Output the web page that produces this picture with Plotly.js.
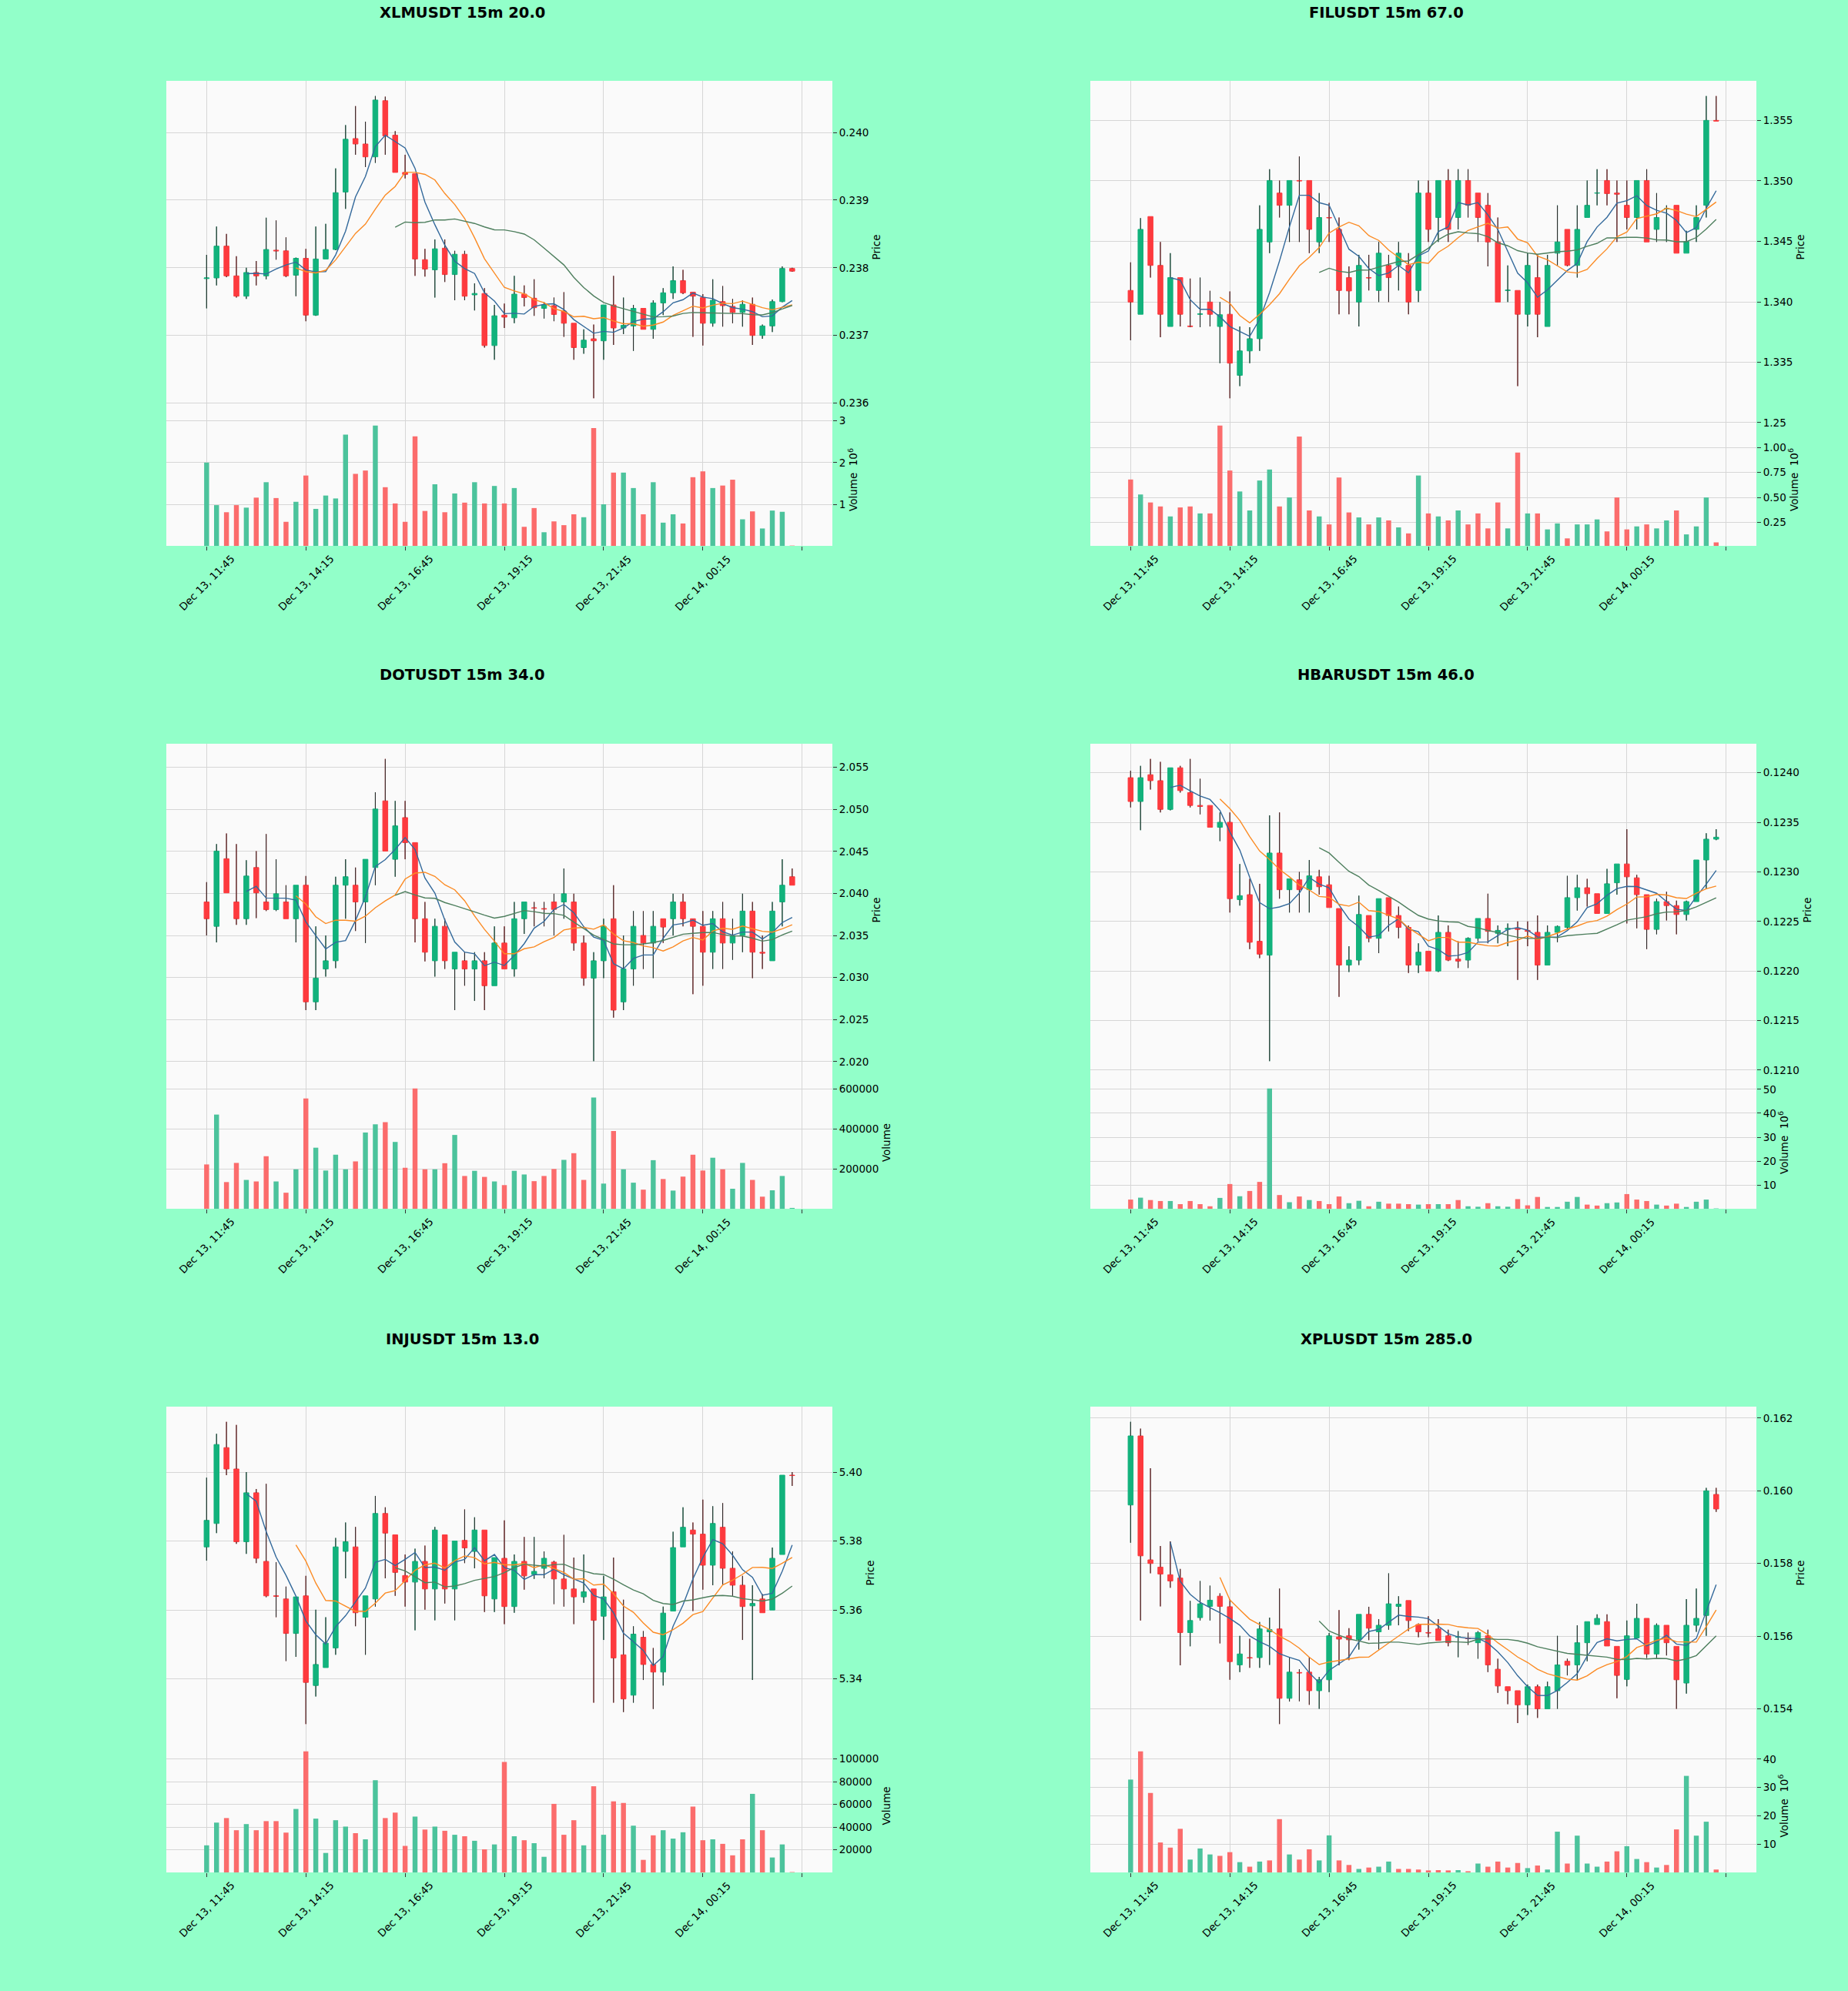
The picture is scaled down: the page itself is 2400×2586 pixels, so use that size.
<!DOCTYPE html>
<html><head><meta charset="utf-8">
<script src="https://cdn.plot.ly/plotly-3.0.1.min.js"></script>
<style>html,body{margin:0;padding:0;background:#92ffc9}</style>
</head><body><div id="chart" style="width:2400px;height:2586px"></div>
<script>
// ---------- shared axis labels ----------
const tickLabels = ['Dec 13, 11:45','Dec 13, 14:15','Dec 13, 16:45','Dec 13, 19:15','Dec 13, 21:45','Dec 14, 00:15'];
const tickPositions = [0,10,20,30,40,50,60];
const maPeriods = [5,10,20];

// ---------- XLMUSDT (volume in millions) ----------
const xlmOpen  = [.23784,.23785,.23832,.23788,.23758,.23793,.23788,.23826,.23825,.23789,.23814,.23730,.23813,.23827,.23912,.23991,.23983,.23964,.24047,.23996,.23941,.23939,.23812,.23797,.23829,.23790,.23820,.23760,.23762,.23685,.23730,.23726,.23761,.23755,.23740,.23744,.23736,.23718,.23682,.23695,.23692,.23745,.23711,.23714,.23740,.23709,.23748,.23763,.23781,.23764,.23756,.23718,.23750,.23743,.23734,.23746,.23700,.23714,.23750,.23799];
const xlmHigh  = [.23819,.23861,.23850,.23817,.23800,.23810,.23874,.23870,.23845,.23815,.23828,.23861,.23865,.23947,.24011,.24039,.24016,.24054,.24053,.24002,.23967,.23939,.23828,.23842,.23842,.23825,.23825,.23777,.23770,.23745,.23747,.23788,.23774,.23783,.23749,.23756,.23764,.23718,.23709,.23716,.23745,.23788,.23756,.23745,.23740,.23752,.23770,.23802,.23797,.23764,.23761,.23783,.23773,.23754,.23752,.23756,.23716,.23753,.23802,.23800];
const xlmLow   = [.23740,.23774,.23786,.23756,.23754,.23774,.23783,.23812,.23786,.23758,.23721,.23729,.23813,.23826,.23887,.23967,.23949,.23955,.23967,.23941,.23932,.23788,.23787,.23756,.23779,.23752,.23752,.23737,.23682,.23664,.23711,.23718,.23743,.23729,.23725,.23721,.23698,.23664,.23673,.23607,.23664,.23686,.23702,.23677,.23709,.23695,.23730,.23754,.23761,.23698,.23685,.23713,.23713,.23718,.23713,.23686,.23695,.23705,.23749,.23794];
const xlmClose = [.23785,.23832,.23788,.23758,.23793,.23788,.23827,.23825,.23788,.23814,.23730,.23813,.23827,.23911,.23990,.23983,.23964,.24048,.23995,.23941,.23938,.23813,.23798,.23828,.23790,.23820,.23758,.23762,.23685,.23729,.23727,.23761,.23756,.23741,.23745,.23731,.23718,.23682,.23693,.23692,.23745,.23711,.23715,.23740,.23709,.23748,.23763,.23781,.23763,.23758,.23718,.23752,.23744,.23734,.23746,.23700,.23714,.23750,.23799,.23795];
const xlmVolume= [2.00,0.98,0.81,0.98,0.92,1.16,1.53,1.15,0.58,1.06,1.69,0.89,1.21,1.14,2.67,1.73,1.81,2.89,1.41,1.02,0.58,2.63,0.84,1.48,0.81,1.26,1.04,1.53,1.02,1.44,1.02,1.39,0.46,0.91,0.33,0.59,0.50,0.76,0.69,2.83,1.00,1.76,1.76,1.39,0.76,1.53,0.56,0.76,0.54,1.65,1.79,1.39,1.45,1.59,0.64,0.83,0.42,0.85,0.82,0.01];

// ---------- FILUSDT (volume in millions) ----------
const filOpen  = [1.34094,1.33897,1.34705,1.34301,1.33796,1.34200,1.33800,1.33897,1.33998,1.33796,1.33897,1.33392,1.33594,1.33695,1.34495,1.34899,1.34798,1.35003,1.35003,1.34495,1.34697,1.34599,1.34200,1.33998,1.34200,1.34094,1.34301,1.34301,1.34301,1.34094,1.34899,1.34697,1.35003,1.34697,1.35003,1.34899,1.34798,1.34495,1.34094,1.34094,1.33897,1.34200,1.33796,1.34402,1.34599,1.34301,1.34697,1.34899,1.35003,1.34899,1.34798,1.34697,1.35003,1.34599,1.34768,1.34798,1.34402,1.34599,1.34798,1.35500];
const filHigh  = [1.34326,1.34692,1.34705,1.34495,1.34402,1.34200,1.34192,1.34200,1.34091,1.33998,1.34086,1.33796,1.33790,1.34798,1.35096,1.35003,1.35003,1.35202,1.35003,1.34899,1.34818,1.34697,1.34293,1.34389,1.34389,1.34495,1.34389,1.34495,1.34402,1.35003,1.35003,1.35003,1.35096,1.35096,1.35096,1.34899,1.34899,1.34697,1.34301,1.34094,1.34402,1.34389,1.34389,1.34798,1.34599,1.34798,1.35003,1.35096,1.35096,1.35003,1.35003,1.35003,1.35096,1.34899,1.34798,1.34798,1.34588,1.34798,1.35702,1.35702];
const filLow   = [1.33682,1.33897,1.34200,1.33707,1.33796,1.33796,1.33790,1.33790,1.33796,1.33493,1.33202,1.33303,1.33493,1.33594,1.34402,1.34697,1.34495,1.34495,1.34402,1.34402,1.34495,1.33897,1.33897,1.33796,1.34094,1.33998,1.33998,1.34094,1.33897,1.33998,1.34495,1.34495,1.34495,1.34599,1.34697,1.34495,1.34293,1.33998,1.33998,1.33303,1.33796,1.33707,1.33796,1.34301,1.34293,1.34200,1.34697,1.34798,1.34798,1.34495,1.34599,1.34599,1.34495,1.34495,1.34495,1.34402,1.34402,1.34495,1.34697,1.35495];
const filClose = [1.33998,1.34599,1.34301,1.33897,1.34200,1.33897,1.33796,1.33900,1.33897,1.33893,1.33493,1.33594,1.33695,1.34599,1.35003,1.34798,1.35003,1.35000,1.34599,1.34697,1.34695,1.34094,1.34090,1.34301,1.34198,1.34402,1.34200,1.34402,1.33998,1.34899,1.34599,1.35003,1.34599,1.35003,1.34798,1.34697,1.34495,1.33998,1.34096,1.33897,1.34301,1.33897,1.34301,1.34495,1.34301,1.34599,1.34798,1.34900,1.34895,1.34890,1.34697,1.35003,1.34495,1.34697,1.34770,1.34402,1.34498,1.34697,1.35500,1.35495];
const filVolume= [0.68,0.53,0.45,0.41,0.31,0.40,0.41,0.34,0.34,1.22,0.77,0.56,0.37,0.67,0.78,0.41,0.50,1.11,0.37,0.31,0.23,0.70,0.35,0.30,0.23,0.30,0.27,0.20,0.14,0.72,0.34,0.31,0.27,0.37,0.23,0.34,0.19,0.45,0.19,0.95,0.34,0.34,0.18,0.24,0.09,0.23,0.23,0.28,0.16,0.50,0.18,0.21,0.23,0.19,0.27,0.37,0.13,0.21,0.50,0.05];

// ---------- DOTUSDT ----------
const dotOpen  = [2.03899,2.03609,2.04413,2.03899,2.03699,2.04308,2.03899,2.03808,2.03899,2.03699,2.04098,2.02710,2.03101,2.03199,2.04098,2.04098,2.03899,2.04308,2.05101,2.04406,2.04902,2.04605,2.03699,2.03199,2.03609,2.03101,2.03199,2.03101,2.03199,2.02902,2.03410,2.03101,2.03699,2.03830,2.03820,2.03899,2.03899,2.03899,2.03410,2.02993,2.03199,2.03699,2.02710,2.03101,2.03500,2.03410,2.03699,2.03699,2.03899,2.03699,2.03609,2.03301,2.03699,2.03410,2.03500,2.03790,2.03300,2.03199,2.03899,2.04199];
const dotHigh  = [2.04134,2.04587,2.04714,2.04587,2.04395,2.04504,2.04707,2.04406,2.04098,2.04098,2.04207,2.03609,2.03500,2.04199,2.04406,2.04308,2.04406,2.05203,2.05601,2.05101,2.05101,2.04605,2.03899,2.03699,2.03699,2.03301,2.03301,2.03301,2.03301,2.03609,2.03609,2.03899,2.03899,2.03899,2.03899,2.03996,2.04297,2.03996,2.03500,2.03301,2.03699,2.04098,2.03500,2.03790,2.03790,2.03790,2.03699,2.03996,2.03996,2.03699,2.03790,2.03790,2.03899,2.03699,2.03996,2.03899,2.03500,2.03899,2.04406,2.04297];
const dotLow   = [2.03500,2.03417,2.04007,2.03627,2.03627,2.03707,2.03790,2.03790,2.03699,2.03417,2.02612,2.02612,2.03011,2.03112,2.03699,2.03554,2.03410,2.04098,2.04504,2.04199,2.04406,2.03417,2.03192,2.03011,2.03101,2.02612,2.02902,2.02721,2.02612,2.02902,2.03101,2.03011,2.03518,2.03609,2.03609,2.03500,2.03699,2.03319,2.02902,2.02004,2.02993,2.02522,2.02612,2.02902,2.03101,2.02993,2.03410,2.03500,2.03609,2.02801,2.02902,2.03101,2.03101,2.03210,2.03301,2.02993,2.03101,2.03199,2.03609,2.04098];
const dotClose = [2.03699,2.04504,2.04007,2.03699,2.04207,2.04007,2.03808,2.03996,2.03699,2.04098,2.02710,2.02993,2.03199,2.04098,2.04199,2.03899,2.04406,2.05004,2.04504,2.04804,2.04605,2.03699,2.03301,2.03609,2.03199,2.03301,2.03101,2.03199,2.02902,2.03410,2.03101,2.03699,2.03899,2.03825,2.03815,2.03810,2.03996,2.03410,2.02993,2.03199,2.03609,2.02612,2.03101,2.03609,2.03410,2.03609,2.03600,2.03899,2.03699,2.03609,2.03301,2.03699,2.03410,2.03500,2.03790,2.03301,2.03290,2.03790,2.04098,2.04098];
const dotVolume= [222700,471200,134800,230300,145500,137900,263600,137900,81800,198500,551500,306100,192400,271200,198500,237900,381800,422700,433300,334800,206100,601500,198500,198500,228800,369700,165200,190900,160600,137900,119700,190900,172700,139400,165200,200000,245500,278800,145500,556100,127300,389400,198500,131800,97000,243900,150000,92400,162100,271200,192400,256100,198500,101500,230300,145500,62100,93900,165200,6000];

// ---------- HBARUSDT (volume in millions) ----------
const hbarOpen  = [.12395,.12371,.12398,.12392,.12363,.12405,.12380,.12367,.12367,.12345,.12350,.12272,.12277,.12230,.12216,.12319,.12282,.12292,.12282,.12295,.12287,.12263,.12206,.12211,.12256,.12233,.12274,.12256,.12244,.12206,.12220,.12200,.12239,.12212,.12211,.12233,.12253,.12238,.12242,.12243,.12241,.12239,.12206,.12239,.12244,.12274,.12284,.12278,.12258,.12289,.12308,.12294,.12277,.12242,.12270,.12266,.12257,.12270,.12312,.12333];
const hbarHigh  = [.12402,.12407,.12414,.12411,.12405,.12407,.12414,.12394,.12367,.12360,.12360,.12308,.12293,.12288,.12357,.12360,.12293,.12300,.12312,.12302,.12296,.12263,.12225,.12276,.12256,.12273,.12274,.12265,.12246,.12228,.12220,.12256,.12246,.12230,.12234,.12253,.12278,.12246,.12248,.12250,.12250,.12256,.12246,.12246,.12296,.12297,.12293,.12278,.12303,.12308,.12343,.12297,.12277,.12273,.12280,.12271,.12271,.12312,.12339,.12343];
const hbarLow   = [.12365,.12342,.12383,.12360,.12362,.12380,.12365,.12358,.12345,.12331,.12259,.12266,.12222,.12213,.12109,.12273,.12259,.12259,.12259,.12277,.12264,.12174,.12199,.12206,.12229,.12218,.12240,.12233,.12198,.12198,.12200,.12199,.12210,.12203,.12203,.12230,.12228,.12228,.12225,.12191,.12225,.12191,.12206,.12229,.12242,.12261,.12265,.12258,.12258,.12277,.12248,.12243,.12222,.12237,.12251,.12237,.12251,.12270,.12283,.12332];
const hbarClose = [.12371,.12395,.12392,.12363,.12405,.12382,.12367,.12366,.12345,.12350,.12273,.12276,.12229,.12217,.12319,.12282,.12293,.12282,.12296,.12285,.12264,.12206,.12211,.12257,.12233,.12273,.12256,.12244,.12206,.12219,.12200,.12239,.12211,.12210,.12233,.12253,.12240,.12241,.12243,.12242,.12240,.12206,.12239,.12245,.12274,.12284,.12278,.12258,.12288,.12308,.12295,.12277,.12242,.12270,.12266,.12257,.12270,.12312,.12333,.12335];
const hbarVolume= [3.9,4.7,3.7,3.3,3.3,2.0,3.3,2.0,1.1,4.6,10.4,5.3,7.5,11.3,50.4,5.8,2.8,5.2,3.7,3.3,2.0,5.2,2.4,3.4,1.1,3.0,2.2,2.2,2.0,1.8,2.0,2.0,2.0,3.7,1.1,0.9,2.4,1.1,0.9,4.1,1.5,5.0,0.8,0.8,3.0,5.0,1.8,1.4,2.4,2.7,6.2,3.9,3.3,1.8,1.4,2.2,0.8,3.0,3.9,0.2];

// ---------- INJUSDT ----------
const injOpen  = [5.3783,5.3851,5.4071,5.4009,5.3798,5.3940,5.3741,5.3641,5.3632,5.3532,5.3641,5.3381,5.3433,5.3490,5.3770,5.3783,5.3579,5.3632,5.3880,5.3818,5.3700,5.3681,5.3741,5.3661,5.3818,5.3661,5.3802,5.3770,5.3832,5.3632,5.3750,5.3610,5.3741,5.3703,5.3721,5.3739,5.3690,5.3661,5.3638,5.3661,5.3582,5.3653,5.3470,5.3353,5.3521,5.3442,5.3420,5.3597,5.3783,5.3832,5.3820,5.3730,5.3840,5.3721,5.3672,5.3612,5.3632,5.3600,5.3761,5.3991];
const injHigh  = [5.3984,5.4111,5.4146,5.4137,5.4000,5.3951,5.3966,5.3739,5.3668,5.3638,5.3699,5.3601,5.3579,5.3809,5.3854,5.3841,5.3641,5.3931,5.3898,5.3818,5.3761,5.3778,5.3787,5.3841,5.3818,5.3800,5.3892,5.3869,5.3832,5.3752,5.3860,5.3761,5.3812,5.3812,5.3770,5.3743,5.3818,5.3752,5.3761,5.3661,5.3699,5.3752,5.3630,5.3553,5.3539,5.3490,5.3610,5.3827,5.3898,5.3854,5.3920,5.3901,5.3910,5.3770,5.3699,5.3672,5.3646,5.3781,5.3991,5.4000];
const injLow   = [5.3743,5.3823,5.3991,5.3792,5.3763,5.3736,5.3637,5.3579,5.3452,5.3464,5.3269,5.3349,5.3433,5.3470,5.3692,5.3553,5.3470,5.3610,5.3692,5.3641,5.3610,5.3541,5.3601,5.3570,5.3619,5.3570,5.3736,5.3721,5.3594,5.3594,5.3559,5.3592,5.3659,5.3690,5.3692,5.3617,5.3610,5.3559,5.3621,5.3331,5.3513,5.3331,5.3304,5.3331,5.3397,5.3313,5.3381,5.3597,5.3783,5.3597,5.3659,5.3672,5.3672,5.3641,5.3513,5.3397,5.3592,5.3600,5.3761,5.3960];
const injClose = [5.3860,5.4080,5.4009,5.3798,5.3940,5.3750,5.3641,5.3640,5.3532,5.3638,5.3390,5.3442,5.3504,5.3783,5.3798,5.3592,5.3641,5.3880,5.3823,5.3709,5.3681,5.3741,5.3661,5.3832,5.3661,5.3800,5.3780,5.3832,5.3641,5.3752,5.3610,5.3741,5.3699,5.3712,5.3750,5.3690,5.3661,5.3638,5.3653,5.3570,5.3638,5.3461,5.3342,5.3530,5.3442,5.3420,5.3591,5.3781,5.3840,5.3820,5.3730,5.3851,5.3721,5.3672,5.3610,5.3619,5.3592,5.3750,5.3991,5.3990];
const injVolume= [24000,44000,48000,37300,42700,37300,45300,45300,35200,56000,106700,47500,17300,46100,40500,34700,29300,81300,48000,52800,23500,49300,37900,40500,36800,33300,32000,28000,20500,24800,97300,32000,28500,25900,13900,60500,33300,46100,24000,76000,33300,62700,61300,41300,11200,32800,37300,29900,35500,58100,28500,29300,25300,15200,29300,69300,37300,13300,24800,500];

// ---------- XPLUSDT (volume in millions) ----------
const xplOpen  = [.15961,.16151,.15810,.15790,.15769,.15760,.15610,.15651,.15682,.15710,.15681,.15521,.15541,.15541,.15612,.15620,.15429,.15500,.15501,.15450,.15480,.15598,.15601,.15591,.15660,.15612,.15630,.15682,.15698,.15632,.15610,.15620,.15601,.15597,.15595,.15582,.15601,.15509,.15461,.15450,.15411,.15461,.15400,.15450,.15531,.15521,.15582,.15632,.15640,.15572,.15481,.15595,.15649,.15551,.15630,.15572,.15471,.15630,.15657,.15990];
const xplHigh  = [.16190,.16171,.16062,.15848,.15861,.15785,.15697,.15752,.15739,.15718,.15702,.15601,.15593,.15639,.15651,.15731,.15542,.15509,.15542,.15488,.15609,.15672,.15622,.15660,.15681,.15647,.15773,.15710,.15698,.15635,.15655,.15647,.15618,.15614,.15610,.15614,.15618,.15538,.15461,.15450,.15467,.15467,.15475,.15601,.15538,.15630,.15640,.15660,.15660,.15572,.15643,.15689,.15649,.15635,.15630,.15572,.15702,.15731,.16008,.16008];
const xplLow   = [.15857,.15643,.15773,.15682,.15733,.15520,.15572,.15643,.15643,.15580,.15480,.15501,.15513,.15513,.15521,.15358,.15420,.15421,.15411,.15400,.15446,.15520,.15534,.15563,.15589,.15563,.15618,.15630,.15614,.15597,.15597,.15588,.15572,.15542,.15576,.15538,.15501,.15444,.15413,.15361,.15383,.15375,.15400,.15400,.15492,.15480,.15531,.15632,.15573,.15429,.15462,.15595,.15540,.15540,.15547,.15400,.15442,.15612,.15601,.15942];
const xplClose = [.16151,.15821,.15800,.15771,.15752,.15610,.15643,.15689,.15699,.15682,.15530,.15551,.15540,.15620,.15618,.15429,.15501,.15499,.15450,.15480,.15601,.15592,.15590,.15660,.15622,.15630,.15689,.15688,.15643,.15612,.15609,.15588,.15582,.15598,.15593,.15610,.15521,.15463,.15450,.15411,.15461,.15400,.15461,.15521,.15520,.15582,.15640,.15649,.15573,.15492,.15601,.15649,.15551,.15630,.15582,.15480,.15630,.15649,.16000,.15950];
const xplVolume= [32.8,42.7,28.1,10.7,8.9,15.5,4.7,8.6,6.5,6.0,7.3,3.8,2.2,4.0,4.4,18.9,6.5,4.7,8.3,4.4,13.2,4.4,2.8,1.4,1.9,2.2,4.0,1.4,1.4,1.2,0.9,1.0,0.9,1.0,0.6,3.3,2.2,4.0,1.9,3.5,1.7,2.6,1.2,14.5,3.3,13.1,3.3,2.2,4.0,7.6,9.4,4.9,3.8,1.9,2.8,15.3,34.1,13.1,18.0,1.2];

// ---------- panel options ----------
const MIL = 'Volume&nbsp;&nbsp;10<sup>6</sup>';
const panels = [
  {name:'XLMUSDT 15m 20.0',  o:xlmOpen, h:xlmHigh, l:xlmLow, c:xlmClose, v:xlmVolume, pStep:0.001,  pFmt:'.3f', vStep:1,      vFmt:'d',   vTitle:MIL},
  {name:'FILUSDT 15m 67.0',  o:filOpen, h:filHigh, l:filLow, c:filClose, v:filVolume, pStep:0.005,  pFmt:'.3f', vStep:0.25,   vFmt:'.2f', vTitle:MIL},
  {name:'DOTUSDT 15m 34.0',  o:dotOpen, h:dotHigh, l:dotLow, c:dotClose, v:dotVolume, pStep:0.005,  pFmt:'.3f', vStep:200000, vFmt:'d',   vTitle:'Volume'},
  {name:'HBARUSDT 15m 46.0', o:hbarOpen,h:hbarHigh,l:hbarLow,c:hbarClose,v:hbarVolume,pStep:0.0005, pFmt:'.4f', vStep:10,     vFmt:'d',   vTitle:MIL},
  {name:'INJUSDT 15m 13.0',  o:injOpen, h:injHigh, l:injLow, c:injClose, v:injVolume, pStep:0.02,   pFmt:'.2f', vStep:20000,  vFmt:'d',   vTitle:'Volume'},
  {name:'XPLUSDT 15m 285.0', o:xplOpen, h:xplHigh, l:xplLow, c:xplClose, v:xplVolume, pStep:0.002,  pFmt:'.3f', vStep:10,     vFmt:'d',   vTitle:MIL}
];

// ---------- styling ----------
const W = 2400, H = 2586;
const BG = '#92ffc9', PLOTBG = '#fafafa', GRID = '#d6d6d6';
const UP = '#12b27c', DOWN = '#fd3a3e';
const VUP = '#4cc39c', VDOWN = '#fb6c6c';
const WICK = '#2a2a2a';
const MACOL = ['#33699b', '#fb8b24', '#4e7f5e'];
const FONT = 'DejaVu Sans, Liberation Sans, sans-serif';
const colX = [[216,1081],[1416,2281]];
const rowY = [[105,537,709],[966,1398,1570],[1827,2259,2432]];
const titleY = [17, 877, 1739];
const XR = [-4.06, 63.05];
const px = p => p / W, py = p => 1 - p / H;

function sma(arr, n) {
  const xs = [], ys = [];
  for (let i = n - 1; i < arr.length; i++) {
    let s = 0; for (let j = i - n + 1; j <= i; j++) s += arr[j];
    xs.push(i); ys.push(s / n);
  }
  return {xs, ys};
}

const data = [];
const layout = {
  width: W, height: H, paper_bgcolor: BG, plot_bgcolor: PLOTBG,
  margin: {l:0, r:0, t:0, b:0}, showlegend: false, hovermode: false,
  boxgap: 0.28, barmode: 'overlay',
  font: {family: FONT, size: 13.5, color: '#000'},
  annotations: []
};

panels.forEach((p, k) => {
  const col = k % 2, row = Math.floor(k / 2);
  const xa = 'x' + (2*k+1), ya = 'y' + (2*k+1), xv = 'x' + (2*k+2), yv = 'y' + (2*k+2);
  const n = p.c.length;
  const idx = p.c.map((_, i) => i);

  // wicks (above/below the body)
  const wx = [], wy = [];
  for (let i = 0; i < n; i++) {
    const top = Math.max(p.o[i], p.c[i]), bot = Math.min(p.o[i], p.c[i]);
    wx.push(i, i, null, i, i, null);
    wy.push(p.h[i], top, null, bot, p.l[i], null);
  }
  data.push({type:'candlestick', x: idx, open: p.o, high: p.h, low: p.l, close: p.c,
    xaxis: xa, yaxis: ya, whiskerwidth: 0, hoverinfo: 'skip',
    increasing: {line: {color: UP, width: 1}, fillcolor: UP},
    decreasing: {line: {color: DOWN, width: 1}, fillcolor: DOWN}});
  data.push({type:'scatter', mode:'lines', x: wx, y: wy, xaxis: xa, yaxis: ya,
    line: {color: WICK, width: 1.1}, connectgaps: false, hoverinfo: 'skip'});
  maPeriods.forEach((m, j) => {
    const s = sma(p.c, m);
    data.push({type:'scatter', mode:'lines', x: s.xs, y: s.ys, xaxis: xa, yaxis: ya,
      line: {color: MACOL[j], width: 1.4}, hoverinfo: 'skip'});
  });
  // volume, coloured by close vs previous close
  const vcol = p.c.map((c, i) => (i === 0 ? c >= p.o[0] : c >= p.c[i-1]) ? VUP : VDOWN);
  data.push({type:'bar', x: idx, y: p.v, xaxis: xv, yaxis: yv, width: 0.5,
    marker: {color: vcol, line: {width: 0}}, hoverinfo: 'skip'});

  const lo = Math.min(...p.l), hi = Math.max(...p.h), R = hi - lo;
  const vmin = Math.min(...p.v), vmax = Math.max(...p.v);
  const xd = [px(colX[col][0]), px(colX[col][1])];
  const [yTop, yMid, yBot] = rowY[row];

  const xBase = {domain: xd, range: XR, tickmode: 'array', tickvals: tickPositions,
    showgrid: true, gridcolor: GRID, gridwidth: 1, zeroline: false, showline: false,
    fixedrange: true};
  layout['xaxis' + (2*k+1)] = Object.assign({}, xBase, {anchor: ya, showticklabels: false,
    ticks: '', rangeslider: {visible: false}});
  layout['xaxis' + (2*k+2)] = Object.assign({}, xBase, {anchor: yv, showticklabels: false,
    ticks: 'outside', ticklen: 5, tickwidth: 1, tickcolor: '#333'});

  const yBase = {side: 'right', showgrid: true, gridcolor: GRID, gridwidth: 1,
    zeroline: false, showline: false, ticks: 'outside', ticklen: 5, tickwidth: 1,
    tickcolor: '#333', tickfont: {size: 13.5, color: '#000'}, automargin: false,
    tickmode: 'linear', tick0: 0, fixedrange: true};
  layout['yaxis' + (2*k+1)] = Object.assign({}, yBase, {anchor: xa,
    domain: [py(yMid), py(yTop)], range: [lo - 0.05*R, hi + 0.05*R],
    dtick: p.pStep, tickformat: p.pFmt,
    title: {text: 'Price', font: {size: 13.5, color: '#000'}, standoff: 6}});
  layout['yaxis' + (2*k+2)] = Object.assign({}, yBase, {anchor: xv,
    domain: [py(yBot), py(yMid)], range: [0.3*vmin, 1.1*vmax],
    dtick: p.vStep, tickformat: p.vFmt,
    title: {text: p.vTitle, font: {size: 13.5, color: '#000'}, standoff: 6}});

  // rotated date labels under the volume pane
  tickLabels.forEach((t, j) => {
    layout.annotations.push({text: t, x: tickPositions[j], xref: xv, y: py(yBot), yref: 'paper',
      yshift: -48, textangle: -45, showarrow: false, xanchor: 'center', yanchor: 'middle',
      font: {size: 13.5, color: '#000'}});
  });
  // panel title
  layout.annotations.push({text: '<b>' + p.name + '</b>', x: col === 0 ? 0.25 : 0.75, xref: 'paper',
    y: py(titleY[row]), yref: 'paper', showarrow: false, xanchor: 'center', yanchor: 'middle',
    font: {size: 19.5, color: '#000'}});
});

Plotly.newPlot('chart', data, layout, {staticPlot: true, displayModeBar: false});
</script>
</body></html>
